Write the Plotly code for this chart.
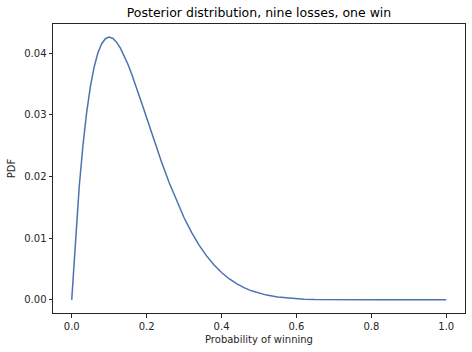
import plotly.graph_objects as go

# Data
p_grid = [0.00, 0.01, 0.02, 0.03, 0.04, 0.05, 0.06, 0.07, 0.08, 0.09, 0.10,
          0.11, 0.12, 0.13, 0.14, 0.15, 0.16, 0.17, 0.18, 0.19, 0.20,
          0.22, 0.24, 0.26, 0.28, 0.30, 0.32, 0.34, 0.36, 0.38, 0.40,
          0.42, 0.44, 0.46, 0.48, 0.50, 0.52, 0.55, 0.58, 0.60, 0.62, 0.65, 0.70,
          0.75, 0.80, 0.90, 1.00]
pdf_vals = [0.0, 0.010049, 0.018343, 0.025088, 0.030471, 0.034664, 0.037818, 0.040073,
            0.041550, 0.042365, 0.042616, 0.042394, 0.041774, 0.040834, 0.039629,
            0.038217, 0.036647, 0.034958, 0.033191, 0.031369, 0.029528,
            0.025867, 0.022330, 0.019032, 0.016017, 0.013317, 0.010942, 0.008887,
            0.007134, 0.005658, 0.004434, 0.003432, 0.002622, 0.001976, 0.001468,
            0.001074, 0.000774, 0.000458, 0.000259, 0.000173, 0.000113, 0.0000563,
            0.0000152, 0.000003, 0.00000045, 0.0, 0.0]

x_ticks = [0.0, 0.2, 0.4, 0.6, 0.8, 1.0]
y_ticks = [0.00, 0.01, 0.02, 0.03, 0.04]

fig = go.Figure()
fig.add_trace(go.Scatter(x=p_grid, y=pdf_vals, mode="lines",
                         line=dict(color="#4C72B0", width=1.5), showlegend=False))

axis_common = dict(showline=True, linecolor="#262626", linewidth=1, mirror=True,
                   ticks="outside", ticklen=3.5, tickwidth=1, tickcolor="#262626",
                   showgrid=False, zeroline=False,
                   tickfont=dict(family="DejaVu Sans", size=10, color="#262626"))

fig.update_layout(
    width=472, height=352,
    margin=dict(l=52.5, r=6.5, t=23.5, b=39.3),
    paper_bgcolor="white", plot_bgcolor="white",
    title=dict(text="Posterior distribution, nine losses, one win",
               font=dict(family="DejaVu Sans", size=12.5, color="#000000"),
               x=0.5, xanchor="center", xref="paper", y=1 - 12.5 / 352, yanchor="middle"),
    xaxis=dict(range=[-0.05, 1.05], tickvals=x_ticks, ticktext=["0.0", "0.2", "0.4", "0.6", "0.8", "1.0"],
               title=dict(text="Probability of winning", standoff=5,
                          font=dict(family="DejaVu Sans", size=10, color="#262626")),
               **axis_common),
    yaxis=dict(range=[-0.00213, 0.04475], tickvals=y_ticks, ticktext=["0.00", "0.01", "0.02", "0.03", "0.04"],
               title=dict(text="PDF", standoff=6,
                          font=dict(family="DejaVu Sans", size=10, color="#262626")),
               **axis_common),
)

fig.write_html("out.html")
